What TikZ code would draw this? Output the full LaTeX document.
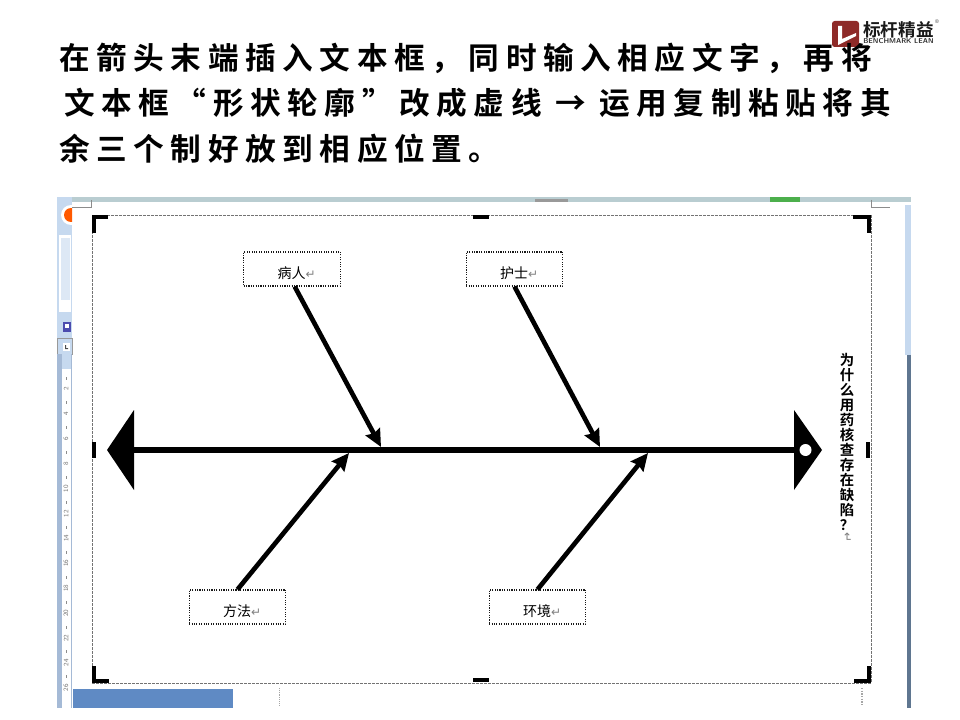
\documentclass[tikz,border=0pt]{standalone}
\usepackage{fontspec}
\usetikzlibrary{arrows.meta}
\newfontfamily\titlefont[LetterSpace=21.4]{Noto Sans CJK SC Bold}
\newfontfamily\cjkfont{Noto Sans CJK SC}
\newfontfamily\cjkbold{Noto Sans CJK SC Bold}
\newfontfamily\logofont{Noto Sans CJK SC Bold}
\newfontfamily\symfont{DejaVu Sans}
\newcommand{\retmark}{{\symfont\fontsize{9}{9}\selectfont\textcolor{black!50}{↵}}}
\definecolor{chrome}{HTML}{C6D9EF}
\definecolor{rulerdark}{HTML}{A5BAD6}
\definecolor{barline}{HTML}{B9CDD1}
\definecolor{scrollbar}{HTML}{5F7690}
\definecolor{docblue}{HTML}{5F8AC4}
\definecolor{logored}{HTML}{8E2A28}
\tikzset{
  titleline/.style={anchor=west,inner sep=0pt,font=\titlefont\fontsize{23}{26}\selectfont},
  labelbox/.style={draw=black!90,densely dotted,line width=0.8pt,minimum width=72.5pt,minimum height=25.5pt,inner sep=0pt,font=\cjkfont\fontsize{10.5}{12}\selectfont,fill=white},
  spine/.style={line width=4.5pt,black},
  rib/.style={line width=3.5pt,black,-{Stealth[length=13pt,width=12pt,inset=1.5pt]}},
  cropmark/.style={line width=2.4pt,black,line cap=butt,line join=miter},
  frame/.style={draw=black!55,line width=0.5pt,dash pattern=on 2pt off 1pt},
  thin gray/.style={draw=black!45,line width=0.5pt},
  ruler num/.style={rotate=90,inner sep=0pt,text=black!55,font=\sffamily\fontsize{5}{5}\selectfont}
}
\newcommand{\boxtext}[1]{\smash{\raisebox{-7pt}{\hspace*{7pt}#1\retmark}}}
\begin{document}
\begin{tikzpicture}[x=0.75pt,y=-0.75pt]
\useasboundingbox (0,0) rectangle (960,720);
\fill[white] (0,0) rectangle (960,720);
% window chrome
\fill[barline] (57,197) rectangle (911,202);
\fill[green!55!black!70] (770,197) rectangle (800,202);
\fill[black!40] (535,199) rectangle (568,202);
\fill[chrome] (57,197) rectangle (72,343);
\begin{scope}
  \clip (57,197) rectangle (72,240);
  \fill[white] (71,215) circle (10);
  \fill[orange!70!red] (71,215) circle (7);
\end{scope}
\fill[white] (59,235) rectangle (71,312);
\fill[chrome!60] (61,238) rectangle (70,300);
\fill[blue!55!black!70] (63,322) rectangle (71,332);
\fill[white] (65,324) rectangle (69,328);
\draw[draw=black!40,fill=chrome] (57,338) rectangle (72,354);
\fill[white] (63,343) rectangle (70,351);
\fill[black!70] (65,345) rectangle (66,349) (65,348) rectangle (68,349);
% vertical ruler
\fill[rulerdark] (57,354) rectangle (62,708);
\fill[white] (62,354) rectangle (71,708);
\fill[rulerdark] (71,354) rectangle (72,708);
\fill[chrome] (62,354) rectangle (71,369);
\foreach \n in {2,4,...,26}{
  \pgfmathsetmacro{\yy}{389+(\n-2)*12.45}
  \node[ruler num] (rn\n) at (66,\yy) {\n};
  \fill[black!45] (65.5,\yy-12.45) rectangle (66.5,\yy-9.5);
}
% scrollbar
\fill[chrome] (905,205) rectangle (911,355);
\fill[scrollbar] (907,355) rectangle (911,708);
% document panel
\fill[docblue] (73,689) rectangle (233,708);
\draw[thin gray] (72,207) -- (91,207) -- (91,200);
\draw[thin gray] (871,200) -- (871,207) -- (890,207);
\draw[black!35,densely dotted] (279,688) -- (279,706);
\draw[black!35,densely dotted,line width=1pt] (862,688) -- (862,706);
% canvas frame
\draw[frame] (92,215) rectangle (871,683);
\draw[cropmark] (108,217) -- (94,217) -- (94,233);
\draw[cropmark] (853,217) -- (869,217) -- (869,233);
\draw[cropmark] (94,666) -- (94,681) -- (109,681);
\draw[cropmark] (854,681) -- (869,681) -- (869,666);
\draw[cropmark] (473,217) -- (489,217);
\draw[cropmark] (473,680) -- (489,680);
\draw[cropmark] (94,442) -- (94,458);
\draw[cropmark] (868,442) -- (868,458);
% fish
\coordinate (tail) at (134,450);
\coordinate (head) at (795,450);
\coordinate (j1) at (381,447);
\coordinate (j2) at (600,447);
\coordinate (j3) at (349,453);
\coordinate (j4) at (648,453);
\fill (134,410) -- (107,450) -- (134,490) -- cycle;
\fill (794,410) -- (822,450) -- (794,490) -- cycle;
\fill[white] (805.5,450) circle (6);
\draw[spine] (tail) -- (head);
\node[labelbox] (bingren) at (292,269) {\boxtext{病人}};
\node[labelbox] (hushi) at (514.5,269) {\boxtext{护士}};
\node[labelbox] (fangfa) at (237.5,607) {\boxtext{方法}};
\node[labelbox] (huanjing) at (537.5,607) {\boxtext{环境}};
\draw[rib] ([xshift=2pt]bingren.south) -- (j1);
\draw[rib] (hushi.south) -- (j2);
\draw[rib] (fangfa.north) -- (j3);
\draw[rib] (huanjing.north) -- (j4);
% vertical question
\node[inner sep=0pt,align=center,anchor=north,font=\cjkbold\fontsize{10.8}{11.25}\selectfont] (question) at (847,353)
 {为\\什\\么\\用\\药\\核\\查\\存\\在\\缺\\陷\\？\\[-10pt]\rotatebox{-90}{\retmark}};
% logo
\fill[logored,rounded corners=2pt] (832,21) rectangle (859,47);
\fill[white] (838,26) -- (842,26) -- (842,39) -- (856,33) -- (856,36) -- (838,45) -- cycle;
\node[inner sep=0pt,anchor=west,font=\logofont\fontsize{13.2}{14}\selectfont,text=black!90] (logoa) at (863,29.5) {标杆精益};
\node[inner sep=0pt,anchor=west,font=\sffamily\bfseries\fontsize{5.3}{6}\selectfont,text=black!80] (logob) at (863,41.5) {BENCHMARK LEAN};
\node[inner sep=0pt,font=\sffamily\fontsize{4}{4}\selectfont,text=black!70] (logoc) at (937,22) {®};
% title
\node[titleline] (t1) at (59,58) {在箭头末端插入文本框，同时输入相应文字，再将};
\node[titleline] (t2) at (64,103) {文本框“形状轮廓”改成虚线 → 运用复制粘贴将其};
\node[titleline] (t3) at (59,149) {余三个制好放到相应位置。};
\end{tikzpicture}
\end{document}
